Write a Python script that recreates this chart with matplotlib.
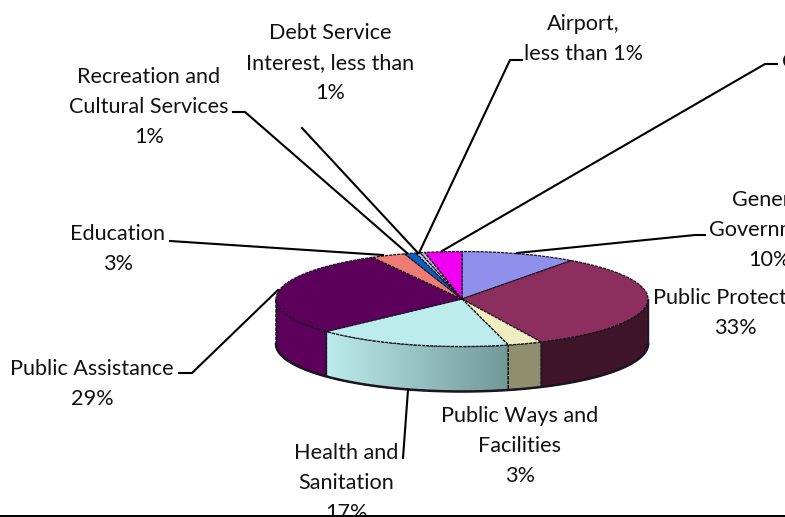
import numpy as np
import matplotlib
matplotlib.use('Agg')
import matplotlib.pyplot as plt
from matplotlib.colors import LinearSegmentedColormap
from matplotlib.patches import Polygon

plt.rcParams['font.family'] = ['Lato', 'DejaVu Sans']

categories = ['General Government', 'Public Protection', 'Public Ways and Facilities',
              'Health and Sanitation', 'Public Assistance', 'Education',
              'Recreation and Cultural Services', 'Debt Service Interest', 'Airport', 'Other']
shares = [10, 33, 3, 17, 29, 3, 1, 0.4, 0.4, 3.2]
top_colors = ['#8f8fec', '#8c2f5e', '#f0eec0', '#bcecec', '#5c005c',
              '#ee7b74', '#0a62c0', '#c4c8ee', '#b8b8d8', '#f000ee']
side_colors = ['#6c6cb0', '#3d1428', '#8f8f70', '#bcecec', '#5c005c',
               '#b05c58', '#084a90', '#9296b0', '#8a8aa2', '#b000b0']
label_texts = ['General\nGovernment\n10%', 'Public Protection\n33%',
               'Public Ways and\nFacilities\n3%', 'Health and\nSanitation\n17%',
               'Public Assistance\n29%', 'Education\n3%',
               'Recreation and\nCultural Services\n1%', 'Debt Service\nInterest, less than\n1%',
               'Airport,\nless than 1%', 'Other\n3%']
label_x = [769, 735, 520, 346, 92, 118, 149, 330, 583, 810]
label_y = [230, 313, 446, 483, 384, 249, 107, 63, 39, 77]

# leader lines run from the label elbow to the rim of the slice
leader_x = [[705, 695, 517], [], [], [403, 408], [179, 192, 278], [170, 383],
            [233, 245, 407], [302, 418], [522, 510, 419], [777, 765, 442]]
leader_y = [[235, 235, 253], [], [], [458, 390], [373, 373, 290], [241, 255],
            [112, 112, 253], [128, 253], [60, 60, 253], [64, 64, 251]]

cx, cy, rx, ry, depth = 462, 299, 186, 47.5, 45


def rim(a):
    return cx + rx * np.sin(a), cy - ry * np.cos(a)


fig = plt.figure(figsize=(7.85, 5.17), dpi=100)
ax = fig.add_axes([0, 0, 1, 1])
edges = np.cumsum([0] + shares) / 100 * 2 * np.pi
edge = '#1c1420'
wall_shade = LinearSegmentedColormap.from_list('wall', ['#bcecec', '#729898'])

# outer wall, only the part facing the viewer (90 to 270 degrees)
for i in range(len(shares)):
    a0, a1 = max(edges[i], np.pi / 2), min(edges[i + 1], 3 * np.pi / 2)
    if a1 <= a0:
        continue
    t = np.linspace(a0, a1, 60)
    x, y = rim(t)
    pts = np.r_[np.c_[x, y], np.c_[x[::-1], y[::-1] + depth]]
    if categories[i] == 'Health and Sanitation':
        # shaded wall: light at the left end, darker to the right
        wall = Polygon(pts, fc='none', ec='none', zorder=2)
        ax.add_patch(wall)
        im = ax.imshow(np.linspace(0, 1, 256)[None, :], cmap=wall_shade, aspect='auto', zorder=2,
                       extent=[x.min(), x.max(), y.max() + depth, y.min()])
        im.set_clip_path(wall)
    else:
        ax.add_patch(Polygon(pts, fc=side_colors[i], ec='none', zorder=2))
    ax.add_patch(Polygon(pts, fc='none', ec=edge, lw=1.0, ls=(0, (2.5, 0.8)), zorder=3))

ax.set_xlim(0, 785)
ax.set_ylim(517, 0)
ax.axis('off')

# wall outline at the far left and right plus the lower rim
t = np.linspace(np.pi / 2, 3 * np.pi / 2, 200)
x, y = rim(t)
ax.plot(x, y + depth, color=edge, lw=1.8, zorder=4)
for a in (np.pi / 2, 3 * np.pi / 2):
    px, py = rim(a)
    ax.plot([px, px], [py, py + depth], color=edge, lw=1.0, zorder=4)

# top face
for i in range(len(shares)):
    t = np.linspace(edges[i], edges[i + 1], 80)
    x, y = rim(t)
    pts = np.r_[[[cx, cy]], np.c_[x, y]]
    ax.add_patch(Polygon(pts, fc=top_colors[i], ec=edge, lw=0.9, ls=(0, (2.5, 0.8)),
                         joinstyle='round', zorder=5))

for xs, ys in zip(leader_x, leader_y):
    ax.plot(xs, ys, color='black', lw=1.5, solid_joinstyle='miter', zorder=6)

for text, lx, ly in zip(label_texts, label_x, label_y):
    ax.text(lx, ly, text, ha='center', va='center', fontsize=15.6, color='#111111',
            linespacing=1.62, zorder=7)

# heavy rule along the bottom edge covers whatever runs past it
ax.fill_between([0, 785], 515, 517, color='black', lw=0, zorder=8)

fig.savefig('out.png', dpi=100)
